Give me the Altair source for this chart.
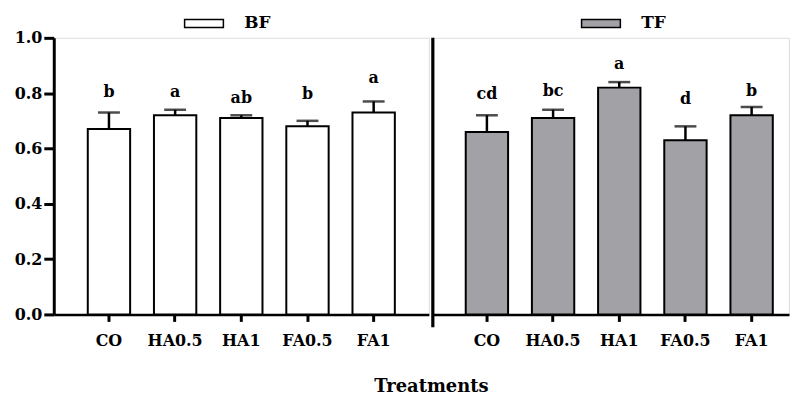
import altair as alt
import pandas as pd

treatments = ["CO", "HA0.5", "HA1", "FA0.5", "FA1"]

bf_mean = [0.67, 0.72, 0.71, 0.68, 0.73]
bf_sd = [0.06, 0.02, 0.01, 0.02, 0.04]
bf_letters = ["b", "a", "ab", "b", "a"]
bf_letter_y = [0.785, 0.785, 0.763, 0.778, 0.838]

tf_mean = [0.66, 0.71, 0.82, 0.63, 0.72]
tf_sd = [0.06, 0.03, 0.02, 0.05, 0.03]
tf_letters = ["cd", "bc", "a", "d", "b"]
tf_letter_y = [0.778, 0.790, 0.889, 0.760, 0.790]

y_ticks = [0.0, 0.2, 0.4, 0.6, 0.8, 1.0]

FONT = "DejaVu Serif, Liberation Serif, serif"
H = 278


def make_df(group, mean, sd, letters, ly):
    return pd.DataFrame({
        "group": group,
        "treatment": treatments,
        "mean": mean,
        "sd": sd,
        "letter": letters,
        "ly": ly,
    })


def panel(df, name, color, width, pad_outer, align, legend_x, show_y):
    xenc = alt.X(
        "treatment:N",
        sort=treatments,
        scale=alt.Scale(paddingInner=0.36, paddingOuter=pad_outer, align=align),
        axis=alt.Axis(
            title=None, labelAngle=0, labelFont=FONT, labelFontSize=16,
            labelFontWeight="bold", labelColor="black", labelPadding=11,
            tickSize=7, tickWidth=3, tickColor="black",
            domainWidth=2.5, domainColor="black",
        ),
    )
    if show_y:
        yaxis = alt.Axis(
            title=None, values=y_ticks, format=".1f", labelFont=FONT,
            labelFontSize=16, labelFontWeight="bold", labelColor="black",
            labelPadding=2, tickSize=10, tickWidth=3, tickColor="black",
            domainWidth=3, domainColor="black", grid=False,
        )
    else:
        yaxis = None
    yscale = alt.Scale(domain=[0, 1])
    base = alt.Chart(df).encode(x=xenc)
    bars = base.mark_bar(stroke="black", strokeWidth=2).encode(
        y=alt.Y("mean:Q", scale=yscale, axis=yaxis),
        fill=alt.Fill(
            "group:N",
            scale=alt.Scale(domain=[name], range=[color]),
            legend=alt.Legend(
                orient="none", legendX=legend_x, legendY=-23,
                title=None, direction="horizontal",
                symbolType="M-3.9,-0.8H3.9V0.8H-3.9Z", symbolSize=100,
                symbolStrokeColor="black", symbolStrokeWidth=1.5,
                symbolOpacity=1,
                labelOffset=32, labelFont=FONT, labelFontSize=17,
                labelFontWeight="bold", labelColor="black",
            ),
        ),
    )
    err = base.transform_calculate(up="datum.mean + datum.sd")
    rule = err.mark_rule(color="black", strokeWidth=2.5).encode(
        y=alt.Y("mean:Q", scale=yscale), y2="up:Q"
    )
    cap = err.mark_tick(color="black", size=22, thickness=2.5).encode(
        y=alt.Y("up:Q", scale=yscale)
    )
    text = base.mark_text(
        font=FONT, fontSize=16, fontWeight="bold", color="black",
        baseline="alphabetic",
    ).encode(y=alt.Y("ly:Q", scale=yscale), text="letter:N")
    layers = [bars, rule, cap, text]
    if not show_y:
        divider = alt.Chart(pd.DataFrame({"d": [0]})).mark_rule(
            color="black", strokeWidth=3.2
        ).encode(x=alt.value(0), y=alt.value(0), y2=alt.value(H + 13))
        layers.append(divider)
    return alt.layer(*layers).properties(width=width, height=H)


bf = make_df("BF", bf_mean, bf_sd, bf_letters, bf_letter_y)
tf = make_df("TF", tf_mean, tf_sd, tf_letters, tf_letter_y)

left = panel(bf, "BF", "white", 377, 0.514, 0.5, 142.5, True)
right = panel(tf, "TF", "#a2a1a6", 358, 0.371, 0.67, 160.5, False)

chart = (
    alt.hconcat(left, right, spacing=0)
    .resolve_scale(x="independent", fill="independent")
    .properties(
        title=alt.TitleParams(
            "Treatments", orient="bottom", anchor="middle", font=FONT,
            fontSize=18, fontWeight="bold", color="black", offset=29, dx=30,
        ),
        padding={"left": 5, "top": 5, "right": 0, "bottom": 0},
    )
    .configure_view(stroke=None)
    .configure(background="white")
)

chart.save("out.html", embed_options={"renderer": "svg", "actions": False})
